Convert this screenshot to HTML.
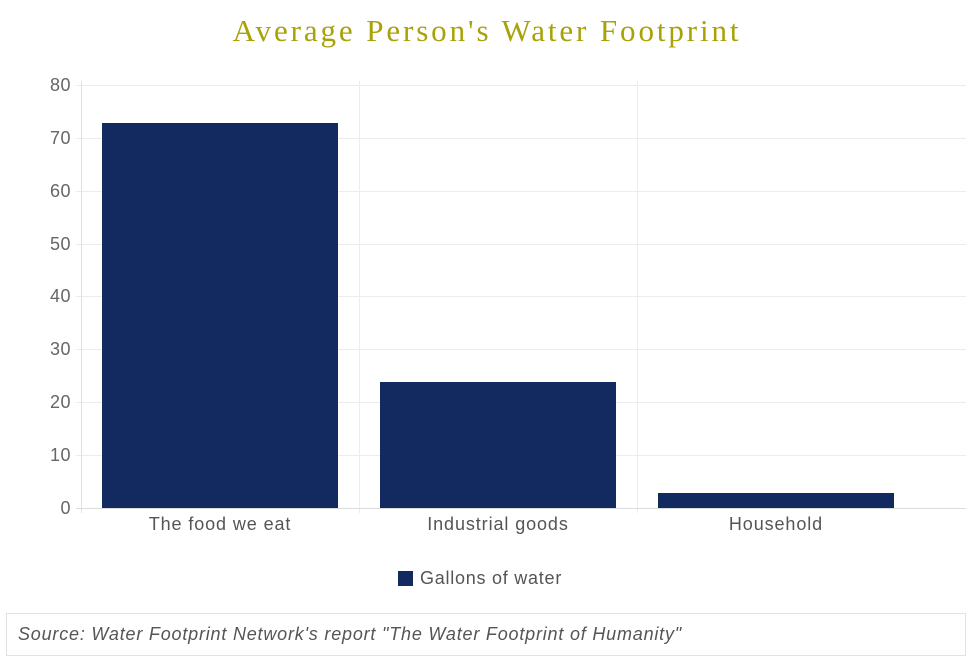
<!DOCTYPE html>
<html><head><style>
body{margin:0;background:#fff;width:974px;height:667px;overflow:hidden;position:relative;font-family:"Liberation Sans",sans-serif;}
</style></head><body>
<svg width="974" height="667" style="position:absolute;left:0;top:0">
<text x="487" y="41" text-anchor="middle" font-family="Liberation Serif" font-size="31" fill="#a8a208" letter-spacing="2.9">Average Person's Water Footprint</text>
<g stroke="#ececec" stroke-width="1">
<line x1="76" y1="85.5" x2="966" y2="85.5"/>
<line x1="76" y1="138.5" x2="966" y2="138.5"/>
<line x1="76" y1="191.5" x2="966" y2="191.5"/>
<line x1="76" y1="244.5" x2="966" y2="244.5"/>
<line x1="76" y1="296.5" x2="966" y2="296.5"/>
<line x1="76" y1="349.5" x2="966" y2="349.5"/>
<line x1="76" y1="402.5" x2="966" y2="402.5"/>
<line x1="76" y1="455.5" x2="966" y2="455.5"/>
<line x1="359.5" y1="81" x2="359.5" y2="513"/>
<line x1="637.5" y1="81" x2="637.5" y2="513"/>
</g>
<line x1="81.5" y1="81" x2="81.5" y2="513" stroke="#e0e0e0"/>
<line x1="76" y1="508.5" x2="966" y2="508.5" stroke="#dcdcdc"/>
<g fill="#122a60">
<rect x="102" y="123" width="236" height="385"/>
<rect x="380" y="382" width="236" height="126"/>
<rect x="658" y="493" width="236" height="15"/>
</g>
<g font-size="18" fill="#666" text-anchor="end" letter-spacing="0.5">
<text x="71" y="91">80</text><text x="71" y="144">70</text><text x="71" y="197">60</text><text x="71" y="250">50</text><text x="71" y="302">40</text><text x="71" y="355">30</text><text x="71" y="408">20</text><text x="71" y="461">10</text><text x="71" y="514">0</text>
</g>
<g font-size="18" fill="#555" text-anchor="middle" letter-spacing="0.9">
<text x="220" y="530">The food we eat</text>
<text x="498" y="530">Industrial goods</text>
<text x="776" y="530">Household</text>
</g>
<rect x="398" y="571" width="15" height="15" fill="#122a60"/>
<text x="420" y="584" font-size="18" fill="#555" letter-spacing="0.75">Gallons of water</text>
<rect x="6.5" y="613.5" width="959" height="42" fill="none" stroke="#e2e2e2"/>
<text x="18" y="640" font-size="18" font-style="italic" fill="#555" letter-spacing="0.8">Source: Water Footprint Network's report "The Water Footprint of Humanity"</text>
</svg>
</body></html>
